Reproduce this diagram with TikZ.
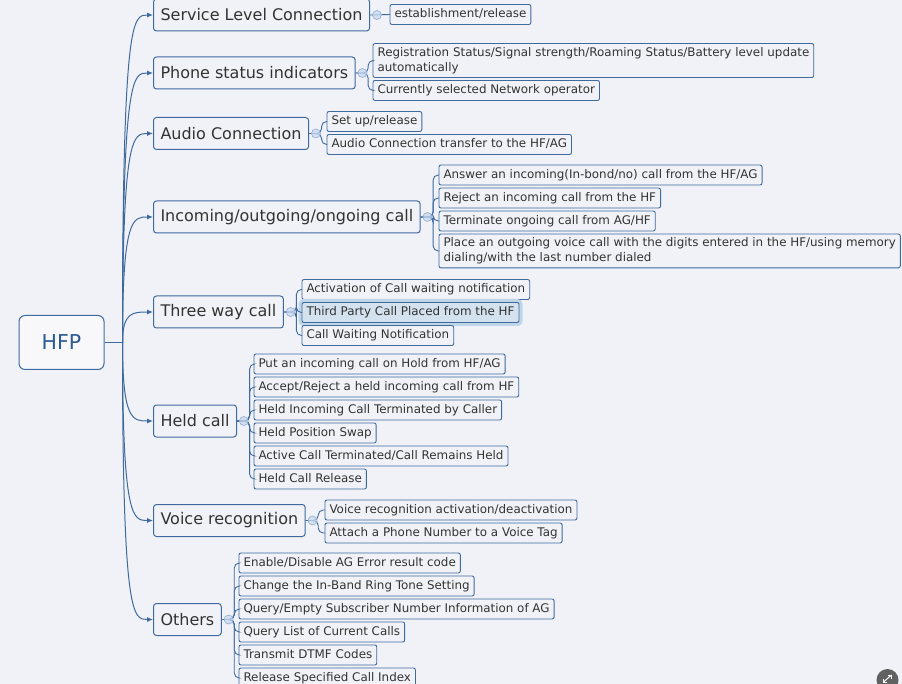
\documentclass[tikz,border=0pt]{standalone}
\usepackage{fontspec}
\setmainfont{DejaVu Sans}
\usetikzlibrary{arrows.meta, positioning}
\definecolor{hfpbg}{HTML}{F0F2F8}
\definecolor{hfpline}{HTML}{3F6A9E}
\definecolor{hfptext}{HTML}{333333}
\definecolor{hfpblue}{HTML}{2B5A94}
\definecolor{hfptoggle}{HTML}{C8D8EF}
\definecolor{hfpsel}{HTML}{D3E2EE}
\definecolor{hfpglow}{HTML}{BFD5E8}

\begin{document}
\begin{tikzpicture}[x=1pt, y=-1pt,
  root/.style={draw=hfpline, line width=1pt, fill=white!50!hfpbg, rounded corners=6pt,
    minimum width=85pt, minimum height=54pt, text=hfpblue, font=\fontsize{20.5}{24}\selectfont},
  topic/.style={draw=hfpline, line width=1pt, fill=hfpbg, rounded corners=3pt, anchor=west,
    minimum height=32pt, inner xsep=7pt, text=hfptext, font=\fontsize{16}{19}\selectfont},
  leafbox/.style={draw=hfpline, line width=0.9pt, fill=hfpbg, rounded corners=2pt, inner xsep=4.5pt,
    outer sep=0pt, text=hfptext, align=left, font=\fontsize{11.9}{15}\selectfont},
  leaf/.style={leafbox, minimum height=20pt, text height=8.9pt, text depth=2.6pt, inner ysep=2pt},
  leafwide/.style={leafbox, inner ysep=3.7pt},
  selected/.style={leaf, fill=hfpsel, preaction={draw=hfpglow, line width=7pt}},
  toggle/.style={circle, draw=hfptoggle!60!hfpline, fill=hfptoggle, fill opacity=0.75,
    line width=0.6pt, inner sep=0pt, minimum size=9pt},
  branch/.style={draw=hfpline, line width=1pt, -{Latex[length=6pt, width=5pt]}},
  subline/.style={draw=hfpline, line width=0.9pt, rounded corners=5pt},
  node distance=3pt,
]
  \clip (0,0) rectangle (902,684);
  \fill[hfpbg] (0,0) rectangle (902,684);

  \node[root] (hfp) at (61.5,342.5) {HFP};
  \coordinate[right=18pt of hfp] (hub);

  % topics
  \node[topic] (n1) at (153,15) {Service Level Connection};
  \node[topic] (n2) at (153,73) {Phone status indicators};
  \node[topic] (n3) at (153,133.5) {Audio Connection};
  \node[topic] (n4) at (153,217) {Incoming/outgoing/ongoing call};
  \node[topic] (n5) at (153,312) {Three way call};
  \node[topic] (n6) at (153,421) {Held call};
  \node[topic] (n7) at (153,520.5) {Voice recognition};
  \node[topic] (n8) at (153,619.5) {Others};

  \draw[draw=hfpline, line width=1pt] (hfp.east) -- (hub);
  \foreach \i in {1,...,8} {
    \draw[branch] (hub) .. controls (hub |- n\i.west) and ([xshift=-20pt]n\i.west) .. (n\i.west);
    \coordinate[right=2pt of n\i] (e\i);
  }

  % leaves
  \node[leaf, anchor=west] (c11) at (390,14.5) {establishment/release};

  \node[leafwide, anchor=west] (c21) at (373,60.5) {Registration Status/Signal strength/Roaming Status/Battery level update\\automatically};
  \node[leaf, below=of c21.south west, anchor=north west] (c22) {Currently selected Network operator};

  \node[leaf, anchor=west] (c31) at (327,121.5) {Set up/release};
  \node[leaf, below=of c31.south west, anchor=north west] (c32) {Audio Connection transfer to the HF/AG};

  \node[leaf, anchor=west] (c41) at (439,175) {Answer an incoming(In-bond/no) call from the HF/AG};
  \node[leaf, below=of c41.south west, anchor=north west] (c42) {Reject an incoming call from the HF};
  \node[leaf, below=of c42.south west, anchor=north west] (c43) {Terminate ongoing call from AG/HF};
  \node[leafwide, below=of c43.south west, anchor=north west] (c44) {Place an outgoing voice call with the digits entered in the HF/using memory\\dialing/with the last number dialed};

  \node[leaf, anchor=west] (c51) at (302,289.5) {Activation of Call waiting notification};
  \node[selected, below=of c51.south west, anchor=north west] (c52) {Third Party Call Placed from the HF};
  \node[leaf, below=of c52.south west, anchor=north west] (c53) {Call Waiting Notification};

  \node[leaf, anchor=west] (c61) at (254,364) {Put an incoming call on Hold from HF/AG};
  \node[leaf, below=of c61.south west, anchor=north west] (c62) {Accept/Reject a held incoming call from HF};
  \node[leaf, below=of c62.south west, anchor=north west] (c63) {Held Incoming Call Terminated by Caller};
  \node[leaf, below=of c63.south west, anchor=north west] (c64) {Held Position Swap};
  \node[leaf, below=of c64.south west, anchor=north west] (c65) {Active Call Terminated/Call Remains Held};
  \node[leaf, below=of c65.south west, anchor=north west] (c66) {Held Call Release};

  \node[leaf, anchor=west] (c71) at (325,510) {Voice recognition activation/deactivation};
  \node[leaf, below=of c71.south west, anchor=north west] (c72) {Attach a Phone Number to a Voice Tag};

  \node[leaf, anchor=west] (c81) at (239,563) {Enable/Disable AG Error result code};
  \node[leaf, below=of c81.south west, anchor=north west] (c82) {Change the In-Band Ring Tone Setting};
  \node[leaf, below=of c82.south west, anchor=north west] (c83) {Query/Empty Subscriber Number Information of AG};
  \node[leaf, below=of c83.south west, anchor=north west] (c84) {Query List of Current Calls};
  \node[leaf, below=of c84.south west, anchor=north west] (c85) {Transmit DTMF Codes};
  \node[leaf, below=of c85.south west, anchor=north west] (c86) {Release Specified Call Index};

  % leaf connectors
  \draw[subline] (n1.east) -- (c11.west);
  \foreach \c in {c21,c22} \draw[subline] (n2.east) -- ([xshift=12.5pt]n2.east) |- (\c.west);
  \foreach \c in {c31,c32} \draw[subline] (n3.east) -- ([xshift=12.5pt]n3.east) |- (\c.west);
  \foreach \c in {c41,c42,c43,c44} \draw[subline] (n4.east) -- ([xshift=12.5pt]n4.east) |- (\c.west);
  \foreach \c in {c51,c52,c53} \draw[subline] (n5.east) -- ([xshift=12.5pt]n5.east) |- (\c.west);
  \foreach \c in {c61,c62,c63,c64,c65,c66} \draw[subline] (n6.east) -- ([xshift=12.5pt]n6.east) |- (\c.west);
  \foreach \c in {c71,c72} \draw[subline] (n7.east) -- ([xshift=12.5pt]n7.east) |- (\c.west);
  \foreach \c in {c81,c82,c83,c84,c85,c86} \draw[subline] (n8.east) -- ([xshift=12.5pt]n8.east) |- (\c.west);

  % toggles
  \foreach \i in {1,...,8} \node[toggle, right=0pt of e\i] (t\i) {};

  % corner button
  \fill[black!62] (887.5,680) circle (11);
  \draw[white, line width=1pt] (883.5,682) -- (891.5,675);
  \draw[white, line width=1pt] (883.5,678.5) -- (883.5,682) -- (887,682) (888,675) -- (891.5,675) -- (891.5,678.5);
\end{tikzpicture}
\end{document}
